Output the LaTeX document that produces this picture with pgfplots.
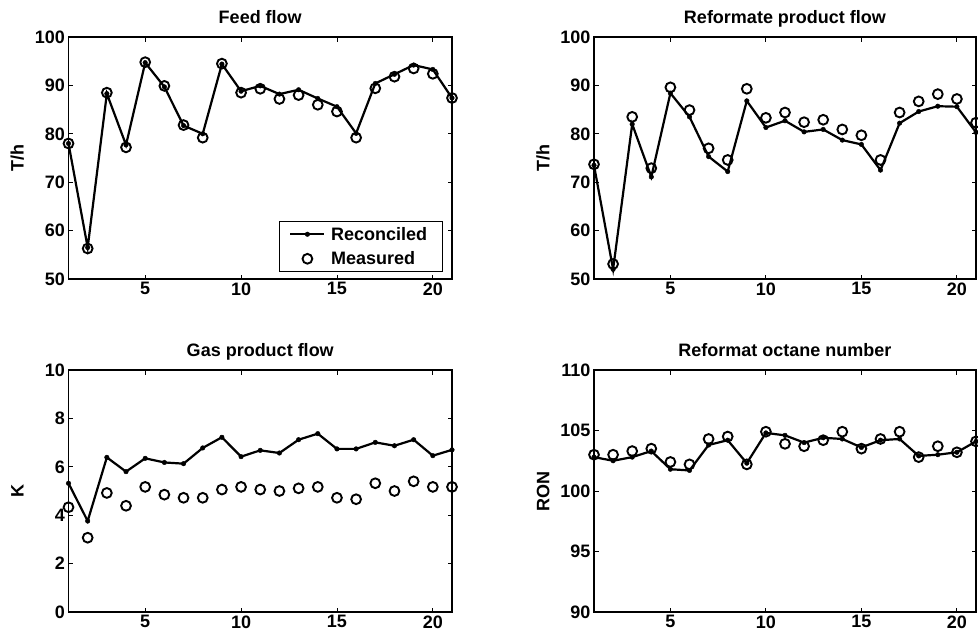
\documentclass[border=0pt]{standalone}
\usepackage{fontspec}
\setmainfont{Liberation Sans}
\usepackage{pgfplots}
\pgfplotsset{compat=1.18}

\newcommand{\mfont}{\fontsize{18}{21}\selectfont\bfseries}

\pgfplotsset{
  mlab/.style={
    scale only axis,
    height=242pt,
    xmin=1, xmax=21,
    xtick={5,10,15,20},
    clip=false,
    tick align=inside,
    major tick length=4.5pt,
    axis line style={line width=1.1pt},
    every tick/.style={black, line width=0.9pt},
    /pgf/number format/assume math mode=true,
    tick label style={font=\mfont},
    title style={font=\mfont, at={(axis description cs:0.5,1)}, anchor=base, yshift=8pt},
    ylabel style={font=\mfont, at={(axis description cs:-0.117,0.5)}, anchor=base},
    legend image code/.code={%
      \draw[mark repeat=2,mark phase=2,##1] plot coordinates {(0pt,0pt) (17pt,0pt) (34pt,0pt)};},
  },
  rec/.style={black, line width=2.2pt, mark=*, mark size=2.3pt, mark options={line width=0.4pt}},
  mea/.style={black, only marks, mark=o, mark size=4.9pt, mark options={line width=1.9pt}},
}

\begin{document}
\begin{tikzpicture}
\useasboundingbox (0pt,0pt) rectangle (978pt,-638pt);

% Feed flow
\begin{axis}[mlab, width=383.5pt, at={(68.5pt,-37pt)}, anchor=north west,
    title={Feed flow}, ylabel={T/h},
    ymin=50, ymax=100, ytick={50,60,70,80,90,100},
    legend style={at={(rel axis cs:1,0)}, anchor=south east, xshift=-9pt, yshift=7pt,
      font=\mfont, draw=black, line width=0.9pt, inner xsep=10pt, inner ysep=0.5pt,
      nodes={inner xsep=5.5pt, inner ysep=5pt}},
    legend cell align=left]
\addplot[rec] coordinates {
  (1,78.0) (2,56.5) (3,88.3) (4,77.7) (5,94.7) (6,89.7) (7,81.7)
  (8,80.0) (9,94.4) (10,88.8) (11,89.9) (12,88.2) (13,89.1) (14,87.3)
  (15,85.6) (16,80.1) (17,90.4) (18,92.3) (19,94.2) (20,93.3) (21,87.4)};
\addlegendentry{Reconciled}
\addplot[mea] coordinates {
  (1,78.0) (2,56.3) (3,88.5) (4,77.2) (5,94.8) (6,89.9) (7,81.8)
  (8,79.2) (9,94.5) (10,88.5) (11,89.3) (12,87.2) (13,88.0) (14,86.0)
  (15,84.6) (16,79.2) (17,89.4) (18,91.8) (19,93.5) (20,92.4) (21,87.4)};
\addlegendentry{Measured}
\end{axis}

% Reformate product flow
\begin{axis}[mlab, width=382pt, at={(594pt,-37pt)}, anchor=north west,
    title={Reformate product flow}, ylabel={T/h},
    ymin=50, ymax=100, ytick={50,60,70,80,90,100}]
\addplot[rec] coordinates {
  (1,73.5) (2,52.0) (3,82.0) (4,71.1) (5,88.4) (6,83.5) (7,75.3)
  (8,72.2) (9,86.8) (10,81.3) (11,82.7) (12,80.4) (13,80.9) (14,78.7)
  (15,77.8) (16,72.5) (17,82.2) (18,84.6) (19,85.7) (20,85.6) (21,80.3)};
\addplot[mea] coordinates {
  (1,73.7) (2,53.1) (3,83.5) (4,72.9) (5,89.6) (6,84.9) (7,77.0)
  (8,74.6) (9,89.3) (10,83.3) (11,84.4) (12,82.4) (13,82.9) (14,80.9)
  (15,79.7) (16,74.6) (17,84.4) (18,86.7) (19,88.2) (20,87.2) (21,82.3)};
\end{axis}

% Gas product flow
\begin{axis}[mlab, width=383.5pt, at={(68.5pt,-370pt)}, anchor=north west,
    title={Gas product flow}, ylabel={K},
    ymin=0, ymax=10, ytick={0,2,4,6,8,10}]
\addplot[rec] coordinates {
  (1,5.32) (2,3.76) (3,6.39) (4,5.80) (5,6.35) (6,6.18) (7,6.13)
  (8,6.78) (9,7.22) (10,6.42) (11,6.68) (12,6.57) (13,7.12) (14,7.37)
  (15,6.74) (16,6.74) (17,7.01) (18,6.87) (19,7.12) (20,6.46) (21,6.70)};
\addplot[mea] coordinates {
  (1,4.33) (2,3.07) (3,4.92) (4,4.39) (5,5.17) (6,4.85) (7,4.72)
  (8,4.72) (9,5.06) (10,5.17) (11,5.06) (12,5.00) (13,5.11) (14,5.17)
  (15,4.72) (16,4.66) (17,5.32) (18,5.00) (19,5.40) (20,5.17) (21,5.17)};
\end{axis}

% Reformat octane number
\begin{axis}[mlab, width=382pt, at={(594pt,-370pt)}, anchor=north west,
    title={Reformat octane number}, ylabel={RON},
    ymin=90, ymax=110, ytick={90,95,100,105,110}]
\addplot[rec] coordinates {
  (1,102.8) (2,102.5) (3,102.8) (4,103.3) (5,101.8) (6,101.7) (7,103.8)
  (8,104.2) (9,102.3) (10,104.8) (11,104.6) (12,104.0) (13,104.4) (14,104.3)
  (15,103.6) (16,104.2) (17,104.3) (18,102.9) (19,103.0) (20,103.2) (21,104.1)};
\addplot[mea] coordinates {
  (1,103.0) (2,103.0) (3,103.3) (4,103.5) (5,102.4) (6,102.2) (7,104.3)
  (8,104.5) (9,102.2) (10,104.9) (11,103.9) (12,103.7) (13,104.2) (14,104.9)
  (15,103.5) (16,104.3) (17,104.9) (18,102.8) (19,103.7) (20,103.2) (21,104.1)};
\end{axis}
\end{tikzpicture}
\end{document}
